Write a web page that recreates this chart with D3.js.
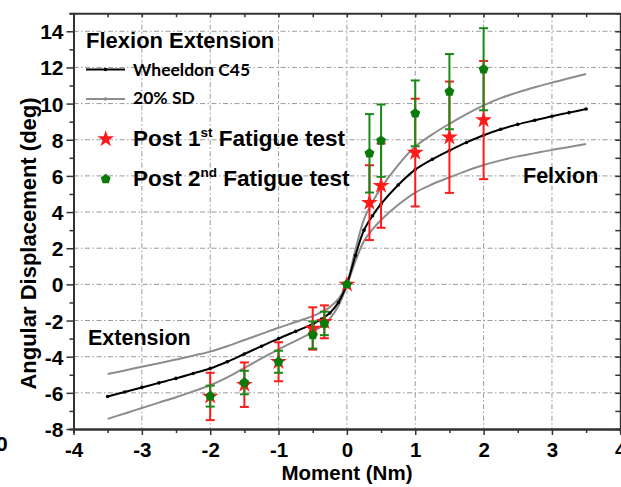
<!DOCTYPE html>
<html><head><meta charset="utf-8">
<script src="https://cdn.jsdelivr.net/npm/d3@7"></script>
<style>
body{margin:0;background:#fff;}
svg{display:block;font-family:"Liberation Sans",Arial,sans-serif;font-weight:bold;}
</style>
</head><body><svg id="c" width="621" height="487"></svg>
<script>
// Wheeldon C45 mean curve and ±20% SD corridor
const curveMoment = [-3.5,-3.25,-3,-2.75,-2.5,-2.25,-2,-1.75,-1.5,-1.25,-1,-0.75,-0.5,-0.375,-0.25,-0.125,0,0.125,0.25,0.375,0.5,0.75,1,1.25,1.5,1.75,2,2.25,2.5,2.75,3,3.25,3.5];
const wheeldon = [-6.2,-5.95,-5.7,-5.45,-5.2,-4.93,-4.65,-4.28,-3.85,-3.42,-3.0,-2.6,-2.2,-1.93,-1.58,-1.0,0,1.6,3.0,3.8,4.45,5.5,6.35,6.92,7.4,7.85,8.25,8.58,8.85,9.08,9.3,9.5,9.7];
const sdHigh = [-7.44,-7.14,-6.84,-6.54,-6.24,-5.92,-5.58,-5.14,-4.62,-4.1,-3.6,-3.12,-2.64,-2.32,-1.9,-1.2,0,1.92,3.6,4.56,5.34,6.6,7.62,8.3,8.88,9.42,9.9,10.3,10.62,10.9,11.16,11.4,11.64];
const sdLow = [-4.96,-4.76,-4.56,-4.36,-4.16,-3.94,-3.72,-3.42,-3.08,-2.74,-2.4,-2.08,-1.76,-1.54,-1.26,-0.8,0,1.28,2.4,3.04,3.56,4.4,5.08,5.54,5.92,6.28,6.6,6.86,7.08,7.26,7.44,7.6,7.76];

// Fatigue test data
const testMoment = [-2,-1.5,-1,-0.5,-0.33,0,0.33,0.5,1,1.5,2];
const post1 = [-6.2,-5.55,-4.28,-2.44,-2.07,0,4.52,5.46,7.29,8.14,9.09];
const post1Err = [1.31,1.23,1.08,1.17,0.91,0,2.07,2.33,2.98,3.08,3.27];
const post2 = [-6.18,-5.43,-4.28,-2.8,-2.16,0,7.25,7.95,9.46,10.66,11.9];
const post2Err = [0.58,0.65,0.61,0.75,0.65,0,2.17,2.0,1.82,2.08,2.27];

const xTicks = [-4,-3,-2,-1,0,1,2,3,4];
const xMinor = [-3.5,-2.5,-1.5,-0.5,0.5,1.5,2.5,3.5];
const yTicks = [-8,-6,-4,-2,0,2,4,6,8,10,12,14];
const yMinor = [-7,-5,-3,-1,1,3,5,7,9,11,13,15];
const xGrid = [-3,-2,-1,0,1,2,3];
const yGrid = [-6,-4,-2,0,2,4,6,8,10,12,14];

const svg = d3.select('#c');
const L = 73.5, R = 620.3, T = 13.2, B = 429;
const x = d3.scaleLinear().domain([-4,4]).range([L,R]);
const y = d3.scaleLinear().domain([-8,15]).range([B,T]);

const AX = '#333';
const GRID = '#9a9a9a';
const fmt = d => String(d);

// grid
const g = svg.append('g');
g.selectAll('.vg').data(xGrid).enter().append('line')
  .attr('x1',d=>x(d)).attr('x2',d=>x(d)).attr('y1',T).attr('y2',B)
  .attr('stroke',GRID).attr('stroke-width',1).attr('stroke-dasharray','5,2.5,1.5,2.5');
g.selectAll('.hg').data(yGrid).enter().append('line')
  .attr('x1',L).attr('x2',R).attr('y1',d=>y(d)).attr('y2',d=>y(d))
  .attr('stroke',GRID).attr('stroke-width',1).attr('stroke-dasharray','5,2.5,1.5,2.5');

function styleAxis(sel){
  sel.select('.domain').attr('stroke',AX).attr('stroke-width',2);
  sel.selectAll('.tick line').attr('stroke',AX).attr('stroke-width',1.5);
  sel.attr('font-family',null).attr('font-size',null);
}
// left
const al = svg.append('g').attr('transform',`translate(${L},0)`)
  .call(d3.axisLeft(y).tickValues(yTicks).tickFormat(fmt).tickSize(7).tickSizeOuter(0).tickPadding(3));
styleAxis(al);
al.selectAll('text').attr('font-size',21).attr('fill','#000').attr('dy','0.36em');
svg.append('g').attr('transform',`translate(${L},0)`)
  .call(d3.axisLeft(y).tickValues(yMinor).tickSize(4).tickFormat('')).call(styleAxis);
// bottom
const ab = svg.append('g').attr('transform',`translate(0,${B})`)
  .call(d3.axisBottom(x).tickValues(xTicks).tickFormat(fmt).tickSize(6).tickSizeOuter(0).tickPadding(7));
styleAxis(ab);
ab.selectAll('text').attr('font-size',20.5).attr('fill','#000').attr('dy','0.71em');
svg.append('g').attr('transform',`translate(0,${B})`)
  .call(d3.axisBottom(x).tickValues(xMinor).tickSize(4).tickFormat('')).call(styleAxis);
// top
svg.append('g').attr('transform',`translate(0,${T})`)
  .call(d3.axisTop(x).tickValues(xTicks.concat(xMinor)).tickSize(-4).tickSizeOuter(0).tickFormat('')).call(styleAxis);
// right
svg.append('g').attr('transform',`translate(${R},0)`)
  .call(d3.axisRight(y).tickValues(yTicks.concat(yMinor)).tickSize(-5).tickSizeOuter(0).tickFormat('')).call(styleAxis);

// curves
const mk = arr => d3.line().x((d,i)=>x(curveMoment[i])).y(d=>y(d)).curve(d3.curveCatmullRom.alpha(0.5))(arr);
svg.append('path').attr('d',mk(sdHigh)).attr('fill','none').attr('stroke','#8c8c8c').attr('stroke-width',2);
svg.append('path').attr('d',mk(sdLow)).attr('fill','none').attr('stroke','#8c8c8c').attr('stroke-width',2);
svg.append('path').attr('d',mk(wheeldon)).attr('fill','none').attr('stroke','#000').attr('stroke-width',2);
svg.selectAll('.wd').data(wheeldon).enter().append('circle')
  .attr('cx',(d,i)=>x(curveMoment[i])).attr('cy',d=>y(d)).attr('r',1.8).attr('fill','#000');

// error bars + markers
const star = d3.symbol(d3.symbolStar, 88)();
function pentagon(r){
  const pts = d3.range(5).map(k=>{const a=-Math.PI/2 + k*2*Math.PI/5; return [r*Math.cos(a), r*Math.sin(a)];});
  return 'M'+pts.map(p=>p.join(',')).join('L')+'Z';
}
const pent = pentagon(5.2);

function errBars(vals, errs, color){
  const eg = svg.append('g').attr('stroke',color).attr('stroke-width',2);
  testMoment.forEach((m,i)=>{
    if(errs[i]<=0) return;
    const xx = x(m), y1 = y(vals[i]-errs[i]), y2 = y(vals[i]+errs[i]);
    eg.append('line').attr('x1',xx).attr('x2',xx).attr('y1',y1).attr('y2',y2);
    eg.append('line').attr('x1',xx-4.5).attr('x2',xx+4.5).attr('y1',y1).attr('y2',y1);
    eg.append('line').attr('x1',xx-4.5).attr('x2',xx+4.5).attr('y1',y2).attr('y2',y2);
  });
}
errBars(post1, post1Err, '#ff1a1a');
svg.selectAll('.s1').data(post1).enter().append('path')
  .attr('d',star).attr('fill','#ff1a1a')
  .attr('transform',(d,i)=>`translate(${x(testMoment[i])},${y(d)})`);
errBars(post2, post2Err, '#178a17');
svg.selectAll('.s2').data(post2).enter().append('path')
  .attr('d',pent).attr('fill','#0a7a0a')
  .attr('transform',(d,i)=>`translate(${x(testMoment[i])},${y(d)})`);

// legend
svg.append('text').attr('x',86).attr('y',47.5).attr('font-size',22).text('Flexion Extension');
svg.append('line').attr('x1',86).attr('x2',125).attr('y1',69.5).attr('y2',69.5).attr('stroke','#000').attr('stroke-width',2);
svg.append('circle').attr('cx',105.5).attr('cy',69.5).attr('r',1.8).attr('fill','#000');
svg.append('text').attr('x',133).attr('y',76).attr('font-size',17.5)
  .attr('font-family','Lato, "Open Sans", sans-serif').text('Wheeldon C45');
svg.append('line').attr('x1',86).attr('x2',125).attr('y1',99).attr('y2',99).attr('stroke','#8c8c8c').attr('stroke-width',2);
svg.append('circle').attr('cx',105.5).attr('cy',99).attr('r',1.8).attr('fill','#8c8c8c');
svg.append('text').attr('x',133).attr('y',104).attr('font-size',17.5)
  .attr('font-family','Lato, "Open Sans", sans-serif').text('20% SD');

svg.append('path').attr('d',star).attr('fill','#ff1a1a').attr('transform','translate(105.7,139)');
const t1 = svg.append('text').attr('x',133).attr('y',146).attr('font-size',22.5);
t1.append('tspan').text('Post 1');
t1.append('tspan').attr('font-size',13.5).attr('dy',-9).text('st');
t1.append('tspan').attr('dy',9).text(' Fatigue test');
svg.append('path').attr('d',pent).attr('fill','#0a7a0a').attr('transform','translate(105.7,179)');
const t2 = svg.append('text').attr('x',133).attr('y',185.5).attr('font-size',22.5);
t2.append('tspan').text('Post 2');
t2.append('tspan').attr('font-size',13.5).attr('dy',-9).text('nd');
t2.append('tspan').attr('dy',9).text(' Fatigue test');

svg.append('text').attr('x',523).attr('y',183.3).attr('font-size',21.5).text('Felxion');
svg.append('text').attr('x',88).attr('y',345).attr('font-size',21.5).text('Extension');

// axis titles
svg.append('text').attr('x',347).attr('y',480).attr('text-anchor','middle').attr('font-size',20.5).text('Moment (Nm)');
svg.append('text').attr('transform','translate(36,243.5) rotate(-90)').attr('text-anchor','middle').attr('font-size',22).text('Angular Displacement (deg)');
// stray clipped label at left edge
svg.append('text').attr('x',-4).attr('y',451).attr('font-size',21).text('0');
</script>
</body></html>
